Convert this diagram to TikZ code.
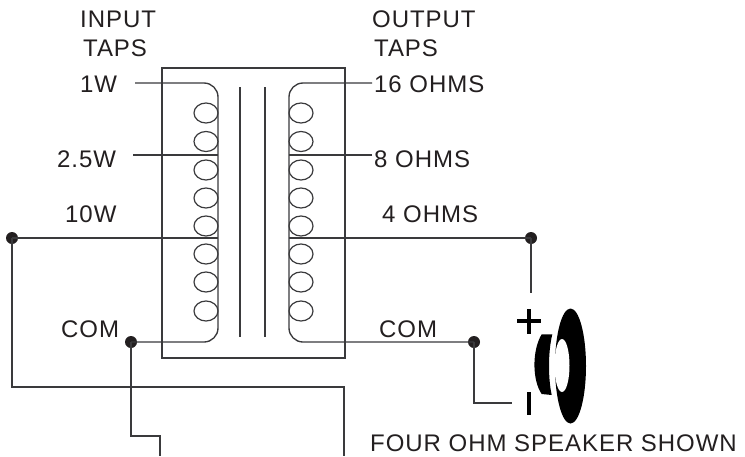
\documentclass[tikz,border=0pt]{standalone}
\usepackage{fontspec}
\usetikzlibrary{shapes.geometric}
\setmainfont{Liberation Sans}
\definecolor{wire}{HTML}{3A3A3C}
\definecolor{dotc}{HTML}{231F20}
\begin{document}
\begin{tikzpicture}[x=1pt,y=-1pt,
  wireline/.style={draw=wire,line width=1.35pt},
  coil/.style={draw=wire,line width=1.2pt,fill=white,ellipse,minimum width=24pt,minimum height=20pt,inner sep=0pt},
  junction/.style={circle,fill=dotc,minimum size=12pt,inner sep=0pt},
  lbl/.style={font=\fontsize{24}{24}\selectfont\addfontfeatures{LetterSpace=4},text=dotc,inner sep=0pt,anchor=base west,align=left}]
\useasboundingbox (0,0) rectangle (745,456);
\fill[white] (0,0) rectangle (745,456);
% named end points
\coordinate (inT) at (135,83); \coordinate (inM) at (133,155);
\coordinate (outT) at (372,83); \coordinate (outM) at (372,155);
\node[junction] (d10) at (12,238) {};
\node[junction] (dCom) at (131,342) {};
\node[junction] (d4) at (531,238) {};
\node[junction] (dOut) at (474,342) {};
\coordinate (plusEnd) at (531,293);
\coordinate (minusEnd) at (512,403);
\coordinate (cutA) at (344,456); \coordinate (cutB) at (160,456);
% case and core
\draw[wireline] (162,68) rectangle (345,358);
\draw[wireline] (240,87) -- (240,337);
\draw[wireline] (265,87) -- (265,337);
% coils
\foreach \y in {113,141.5,170,198,226,254,282,311}{
  \node[coil] at (206,\y) {};
  \node[coil] at (301,\y) {};
}
% windings
\draw[wireline,rounded corners=14pt] (inT) -- (218,83) -- (218,342) -- (dCom.center);
\draw[wireline,rounded corners=14pt] (outT) -- (289,83) -- (289,342) -- (dOut.center);
\draw[wireline] (inM) -- (218,155);
\draw[wireline] (outM) -- (289,155);
\draw[wireline] (d10.center) -- (218,238);
\draw[wireline] (d4.center) -- (289,238);
% external wiring
\draw[wireline] (d4.center) -- (plusEnd);
\draw[wireline] (dOut.center) |- (minusEnd);
\draw[wireline] (d10.center) -- (12,387) -- (344,387) -- (cutA);
\draw[wireline] (dCom.center) -- (131,436) -- (160,436) -- (cutB);
% speaker
\fill[black] (570.5,366) ellipse[x radius=15.5,y radius=57.5];
\fill[white] (562,365.5) ellipse[x radius=7.5,y radius=26.5];
\fill[black] (541.7,334.3) -- (552.3,334.3) .. controls (548,352) and (548,378) .. (551.7,395) -- (541.7,394) .. controls (532,380) and (532,350) .. (541.7,334.3) -- cycle;
\fill[black] (517.3,319.2) rectangle (541,323.4);
\fill[black] (526.9,309) rectangle (531.1,333.5);
\fill[black] (526.8,391.7) rectangle (531.2,415);
% labels
\node[lbl] (l1) at (80,27) {INPUT};
\node[lbl] (l2) at (83,56) {TAPS};
\node[lbl] (l3) at (372,27) {OUTPUT};
\node[lbl] (l4) at (374,56) {TAPS};
\node[lbl] (l5) at (80,92) {1W};
\node[lbl] (l6) at (57,167) {2.5W};
\node[lbl] (l7) at (65,222) {10W};
\node[lbl] (l8) at (61,337) {COM};
\node[lbl] (l9) at (374,92) {16 OHMS};
\node[lbl] (l10) at (374,167) {8 OHMS};
\node[lbl] (l11) at (382,222) {4 OHMS};
\node[lbl] (l12) at (379,337) {COM};
\node[lbl] (l13) at (370,451.5) {FOUR OHM SPEAKER SHOWN};
\end{tikzpicture}
\end{document}
